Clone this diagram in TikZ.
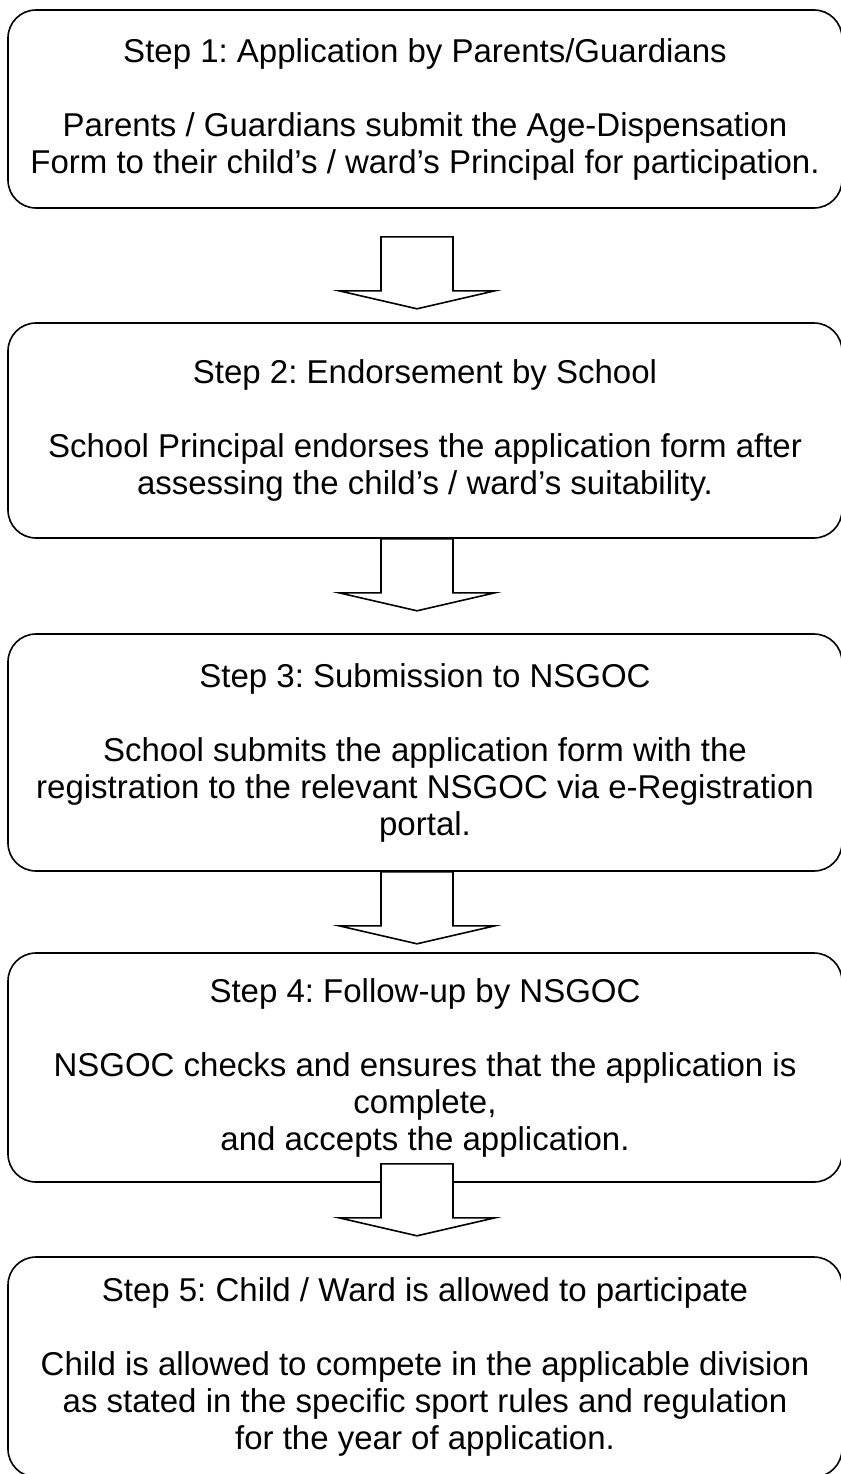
\documentclass[tikz,border=0pt]{standalone}
\usepackage{fontspec}
\setmainfont{Liberation Sans}
\usetikzlibrary{calc}
\frenchspacing

\begin{document}
\begin{tikzpicture}[x=1pt, y=-1pt,
    stepbox/.style={draw, line width=1.6pt, rounded corners=28pt,
      minimum width=834pt, inner sep=0pt, align=center,
      font=\fontsize{33}{37}\selectfont},
    blockarrow/.style={draw, line width=1.6pt, fill=white, line join=miter}]

  \useasboundingbox (0,0) rectangle (840,1474);

  % Step boxes
  \node[stepbox, minimum height=198pt] (box1) at (425,109)
    {Step 1: Application by Parents/Guardians\\[37pt]
     Parents / Guardians submit the Age-Dispensation\\
     Form to their child’s / ward’s Principal for participation.};

  \node[stepbox, minimum height=215pt] (box2) at (425,430.5)
    {Step 2: Endorsement by School\\[37pt]
     School Principal endorses the application form after\\
     assessing the child’s / ward’s suitability.};

  \node[stepbox, minimum height=237pt] (box3) at (425,752.5)
    {Step 3: Submission to NSGOC\\[37pt]
     School submits the application form with the\\
     registration to the relevant NSGOC via e-Registration\\
     portal.};

  \node[stepbox, minimum height=229pt] (box4) at (425,1067.5)
    {Step 4: Follow-up by NSGOC\\[37pt]
     NSGOC checks and ensures that the application is\\
     complete,\\
     and accepts the application.};

  \node[stepbox, minimum height=220pt] (box5) at (425,1367)
    {Step 5: Child / Ward is allowed to participate\\[37pt]
     Child is allowed to compete in the applicable division\\
     as stated in the specific sport rules and regulation\\
     for the year of application.};

  % Block arrows between the steps
  \foreach \from/\dy in {box1/28, box2/0, box3/0, box4/-19} {
    \draw[blockarrow] ($(\from.south)+(-44,\dy)$)
      -- ++(0,54) -- ++(-42,0) -- ++(78,18) -- ++(78,-18)
      -- ++(-42,0) -- ++(0,-54) -- cycle;
  }
\end{tikzpicture}
\end{document}
